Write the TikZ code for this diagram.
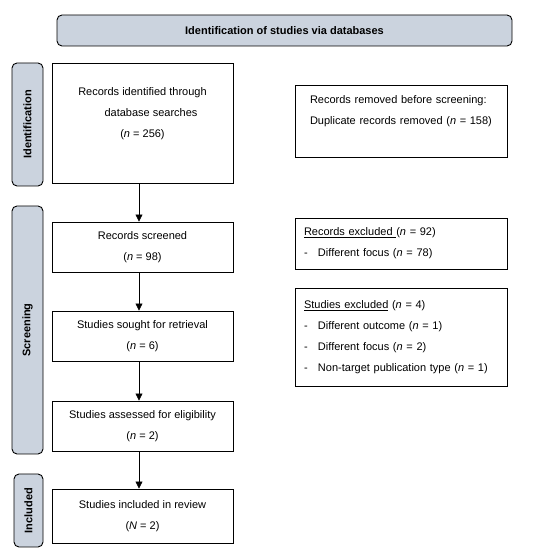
\documentclass[tikz,border=0pt]{standalone}
\usepackage{fontspec}
\setmainfont{Liberation Sans}
\usetikzlibrary{arrows.meta}
\definecolor{phasegray}{RGB}{203,211,222}
\tikzset{every node/.append style={font=\fontsize{11}{21}\selectfont}}
\tikzset{
  stagebox/.style={draw, line width=0.9pt, minimum width=181pt, align=center, inner sep=0pt},
  notebox/.style={draw, line width=0.9pt, align=left, inner ysep=0pt, inner xsep=9pt, text width=194pt},
  phase/.style={draw, line width=0.9pt, fill=phasegray, rounded corners=5pt, inner sep=0pt,
    font=\fontsize{11}{13}\selectfont\bfseries},
  flow/.style={-{Triangle[width=7pt,length=7pt]}, line width=0.6pt}
}
\newcommand{\listdash}[1]{\makebox[14pt][l]{-}#1}
\newcommand{\nn}{\textit{n}}

\begin{document}
\begin{tikzpicture}[x=1pt, y=1pt]
    \useasboundingbox (0,0) rectangle (550,553);

    \node[phase, minimum width=455pt, minimum height=31pt] (top) at (284.5,522.5) {Identification of studies via databases};

    \node[phase, minimum width=123pt, minimum height=31pt, rotate=90] (pid) at (27.5,428.5) {Identification};
    \node[phase, minimum width=248pt, minimum height=31pt, rotate=90] (pscr) at (27.5,223) {Screening};
    \node[phase, minimum width=73pt, minimum height=29pt, rotate=90] (pinc) at (28.5,42.5) {Included};

    \node[stagebox, minimum height=120pt] (ident) at (142.5,430) {Records identified through\\ \hspace*{17pt}database searches\\ (\nn{} = 256)\\ \mbox{}};
    \node[stagebox, minimum height=50pt] (scr) at (142.5,306) {Records screened\\ (\nn{} = 98)};
    \node[stagebox, minimum height=50pt] (sought) at (142.5,217) {Studies sought for retrieval\\ (\nn{} = 6)};
    \node[stagebox, minimum height=50pt] (elig) at (142.5,127) {Studies assessed for eligibility\\ (\nn{} = 2)};
    \node[stagebox, minimum height=54pt] (incl) at (142.5,37) {Studies included in review\\ (\textit{N} = 2)};

    \node[notebox, minimum height=72pt, inner xsep=15pt, text width=182pt] (dup) at (401,432) {Records removed before screening:\\ Duplicate records removed (\nn{} = 158)\\ \mbox{}};
    \node[notebox, minimum height=51pt] (recex) at (401,309.5) {\underline{Records excluded\ }(\nn{} = 92)\\ \listdash{Different focus (\nn{} = 78)}};
    \node[notebox, minimum height=98pt] (studex) at (401,216) {\underline{Studies excluded} (\nn{} = 4)\\ \listdash{Different outcome (\nn{} = 1)}\\ \listdash{Different focus (\nn{} = 2)}\\ \listdash{Non-target publication type (\nn{} = 1)}};

    \draw[flow] ([xshift=-3.5pt]ident.south) -- ([xshift=-3.5pt]scr.north);
    \draw[flow] ([xshift=-3.5pt]scr.south) -- ([xshift=-3.5pt]sought.north);
    \draw[flow] ([xshift=-3.5pt]sought.south) -- ([xshift=-3.5pt]elig.north);
    \draw[flow] ([xshift=-3.5pt]elig.south) -- ([xshift=-3.5pt]incl.north);
  \end{tikzpicture}
\end{document}
